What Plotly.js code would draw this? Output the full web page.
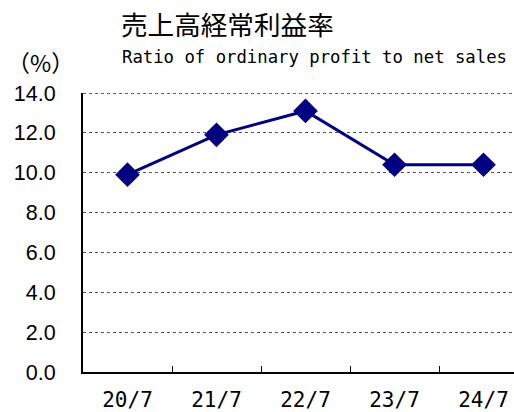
<!DOCTYPE html>
<html><head><meta charset="utf-8">
<script src="https://cdn.plot.ly/plotly-3.0.1.min.js"></script>
<style>html,body{margin:0;padding:0;background:#fff;}#chart{width:514px;height:412px;}</style>
</head><body><div id="chart"></div>
<script>
const categories = ["20/7", "21/7", "22/7", "23/7", "24/7"];
const ratio = [9.9, 11.9, 13.1, 10.4, 10.4];
const yTicks = [0, 2, 4, 6, 8, 10, 12, 14];
const yTickLabels = ["0.0", "2.0", "4.0", "6.0", "8.0", "10.0", "12.0", "14.0"];
const titleJa = "売上高経常利益率";
const titleEn = "Ratio of ordinary profit to net sales";
const unitLabel = "（%）";

const L = 83, T = 93, W = 514, H = 412, B = 40, R = 0;
const pw = W - L - R, ph = H - T - B;
function px(x){ return (x - L) / pw; }
function py(y){ return (H - B - y) / ph; }
const cjk = "Noto Sans CJK JP, sans-serif";
const latin = "Liberation Sans, Noto Sans CJK JP, sans-serif";
const mono = "DejaVu Sans Mono, Liberation Mono, monospace";

const trace = {
  x: categories, y: ratio, type: "scatter", mode: "lines+markers",
  line: {color: "#000080", width: 3},
  marker: {symbol: "diamond", size: 19, color: "#000080"},
  cliponaxis: false, hoverinfo: "skip"
};

const layout = {
  width: W, height: H,
  margin: {l: L, r: R, t: T, b: B, pad: 0},
  paper_bgcolor: "#fff", plot_bgcolor: "#fff",
  showlegend: false,
  font: {family: latin, color: "#000"},
  xaxis: {
    type: "category", range: [-0.5, -0.5 + pw / 89],
    showgrid: false, zeroline: false,
    showline: true, linecolor: "#000", linewidth: 2,
    ticks: "inside", tickson: "boundaries", ticklen: 6, tickwidth: 1, tickcolor: "#000",
    tickfont: {size: 21, family: mono, color: "#000"},
    ticklabelstandoff: 8
  },
  yaxis: {
    range: [0, 14], tickvals: yTicks, ticktext: yTickLabels,
    showgrid: true, gridcolor: "#555", griddash: "dot", gridwidth: 1,
    zeroline: false, showline: true, linecolor: "#000", linewidth: 2,
    ticks: "", tickfont: {size: 21.5, family: latin, color: "#000"},
    ticklabelstandoff: 21
  },
  shapes: [
    {type: "line", xref: "paper", yref: "y", x0: 0, x1: 1, y0: 14, y1: 14,
     line: {color: "#333", width: 1.5, dash: "dot"}}
  ],
  annotations: [
    {text: titleJa, xref: "paper", yref: "paper", x: px(119), y: py(23), xanchor: "left", yanchor: "middle",
     showarrow: false, font: {size: 26.6, family: cjk, color: "#000"}},
    {text: titleEn, xref: "paper", yref: "paper", x: px(120), y: py(57), xanchor: "left", yanchor: "middle",
     showarrow: false, font: {size: 17.3, family: mono, color: "#000"}},
    {text: unitLabel, xref: "paper", yref: "paper", x: px(40), y: py(62), xanchor: "center", yanchor: "middle",
     showarrow: false, font: {size: 23, family: cjk, color: "#000"}}
  ]
};

Plotly.newPlot("chart", [trace], layout, {staticPlot: true, displayModeBar: false});
</script></body></html>
